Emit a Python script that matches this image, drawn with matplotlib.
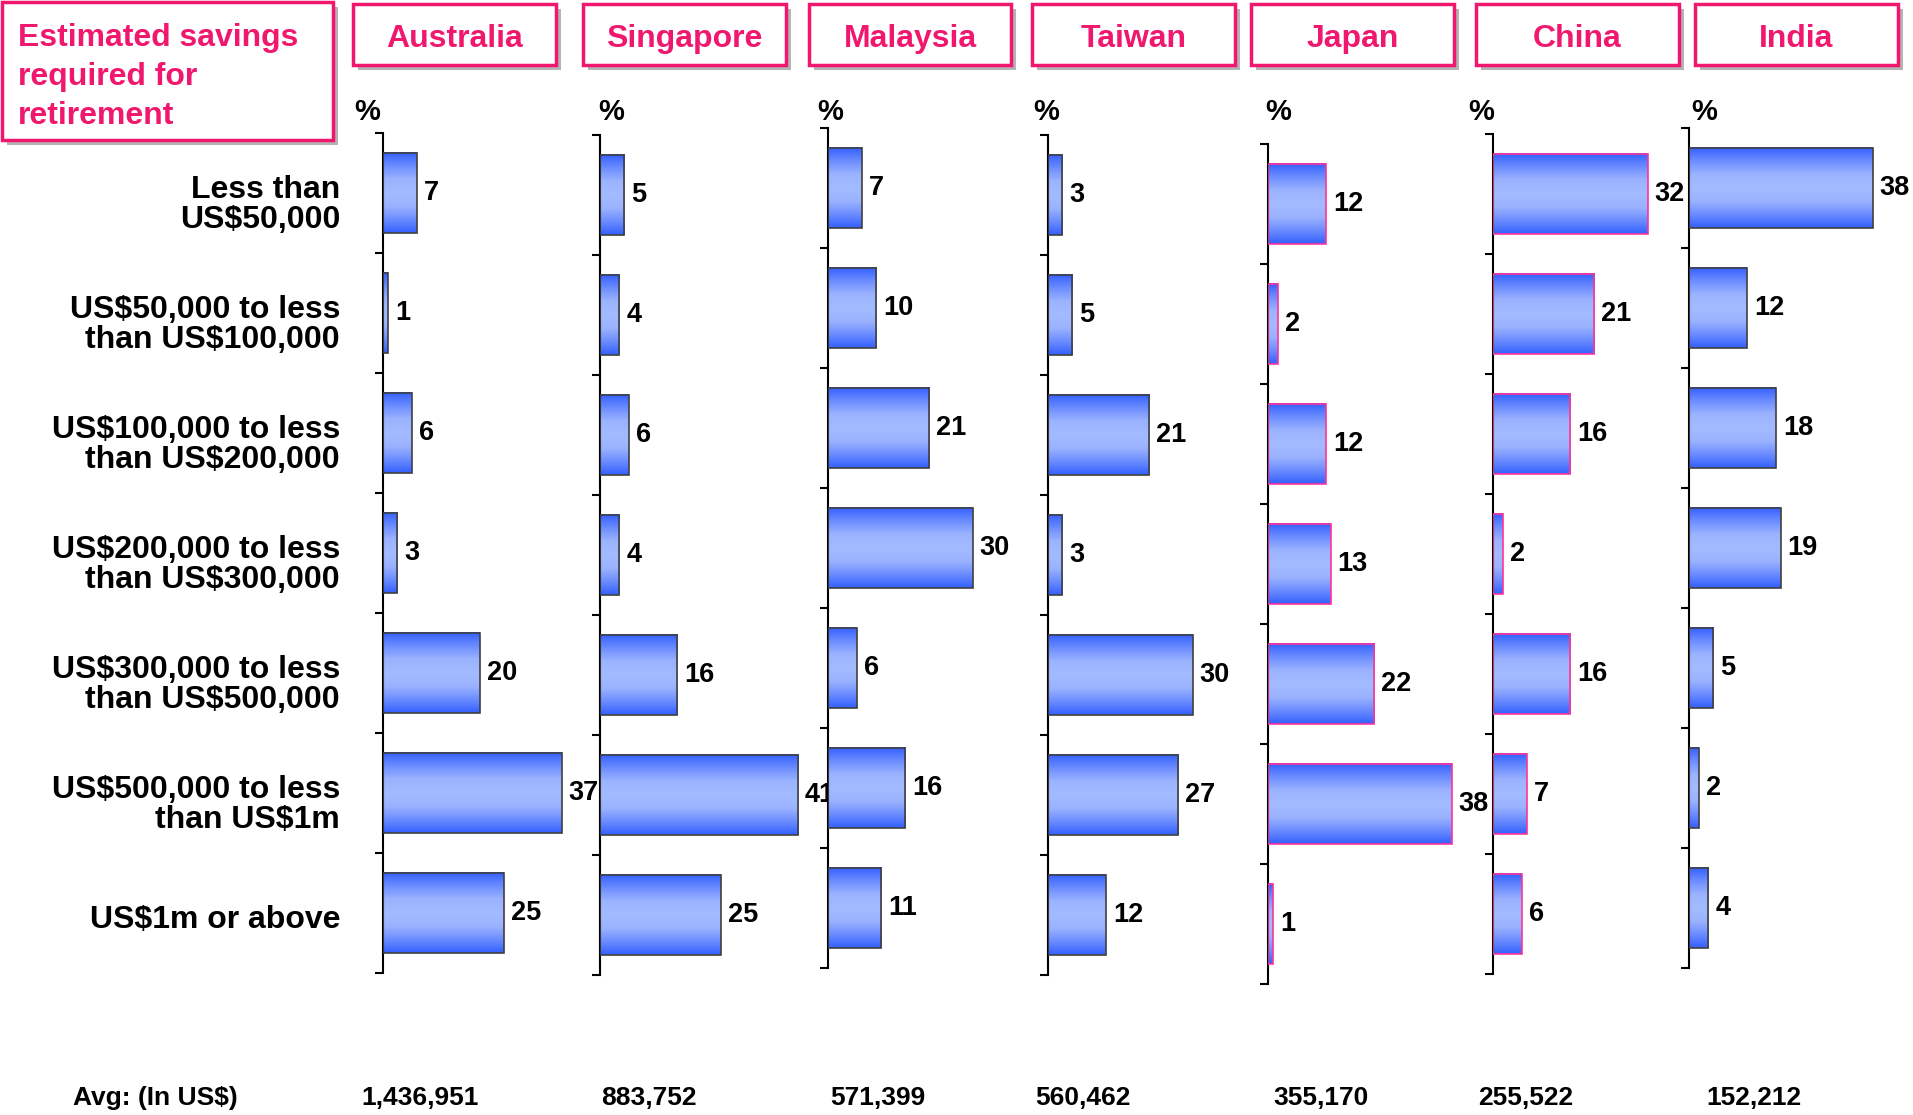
import numpy as np
import matplotlib.pyplot as plt
from matplotlib.colors import LinearSegmentedColormap
from matplotlib.patches import Rectangle
from matplotlib.transforms import blended_transform_factory

plt.rcParams['font.family'] = ['Liberation Sans', 'DejaVu Sans']
plt.rcParams['font.weight'] = 'bold'

# данные
countries = ['Australia', 'Singapore', 'Malaysia', 'Taiwan', 'Japan', 'China', 'India']
categories = ['Less than\nUS$50,000',
              'US$50,000 to less\nthan US$100,000',
              'US$100,000 to less\nthan US$200,000',
              'US$200,000 to less\nthan US$300,000',
              'US$300,000 to less\nthan US$500,000',
              'US$500,000 to less\nthan US$1m',
              'US$1m or above']
australia = [7, 1, 6, 3, 20, 37, 25]
singapore = [5, 4, 6, 4, 16, 41, 25]
malaysia = [7, 10, 21, 30, 6, 16, 11]
taiwan = [3, 5, 21, 3, 30, 27, 12]
japan = [12, 2, 12, 13, 22, 38, 1]
china = [32, 21, 16, 2, 16, 7, 6]
india = [38, 12, 18, 19, 5, 2, 4]
avg_labels = ['1,436,951', '883,752', '571,399', '560,462', '355,170', '255,522', '152,212']
title = 'Estimated savings\nrequired for\nretirement'

all_values = [australia, singapore, malaysia, taiwan, japan, china, india]

# раскладка (пиксели исходной картинки)
W, H = 1913, 1115
PINK = '#F0186E'
axis_x = [383, 600, 828, 1048, 1268, 1493, 1689]
axis_top = [133, 135, 128, 135, 144, 134, 128]
pct_dx = [-16, 11, 2, -2, 10, -12, 15]
box_x = [(353, 556), (583, 786), (809, 1011), (1032, 1235), (1251, 1454), (1476, 1679), (1695, 1898)]
avg_x = [420, 649, 878, 1083, 1321, 1526, 1754]
edge_colors = ['#404040', '#404040', '#404040', '#404040', '#FF3399', '#FF3399', '#404040']
cat_h = 120
px_per_unit = 4.83
ax_w = 215

grad = LinearSegmentedColormap.from_list(
    'g', ['#3360FF', '#6B8CFF', '#9BB3FF', '#A3BBFF', '#9BB3FF', '#6B8CFF', '#3360FF'])
gradient = np.linspace(0, 1, 256).reshape(-1, 1)

fig = plt.figure(figsize=(19.13, 11.15), dpi=100)


def box(x0, x1, y0, y1):
    # тень + рамка
    fig.add_artist(Rectangle(((x0 + 5) / W, 1 - (y1 + 5) / H), (x1 - x0) / W, (y1 - y0) / H,
                             transform=fig.transFigure, facecolor='#b4b4b4', edgecolor='none'))
    fig.add_artist(Rectangle((x0 / W, 1 - y1 / H), (x1 - x0) / W, (y1 - y0) / H,
                             transform=fig.transFigure, facecolor='white', edgecolor=PINK, lw=2.5))


# заголовок
box(2, 333, 2, 140)
fig.text(18 / W, 1 - 77 / H, title, color=PINK, fontsize=23, fontweight='bold',
         ha='left', va='center', linespacing=1.37)

axes = []
for i, (name, vals) in enumerate(zip(countries, all_values)):
    x0, x1 = box_x[i]
    box(x0, x1, 4, 65)
    fig.text((x0 + x1) / 2 / W, 1 - 39 / H, name, color=PINK, fontsize=23,
             fontweight='bold', ha='center', va='center')

    top = axis_top[i]
    ax = fig.add_axes([axis_x[i] / W, 1 - (top + 7 * cat_h) / H, ax_w / W, 7 * cat_h / H])
    ax.set_facecolor('none')
    bars = ax.barh(range(len(vals)), vals, height=0.667, color='none',
                   edgecolor=edge_colors[i], lw=1.2, zorder=3)
    for b in bars:
        ax.imshow(gradient, cmap=grad, aspect='auto', zorder=2,
                  extent=[b.get_x(), b.get_x() + b.get_width(),
                          b.get_y() + b.get_height(), b.get_y()])
    for j, v in enumerate(vals):
        ax.annotate(str(v), (v, j), xytext=(5, 0), textcoords='offset points',
                    va='center', ha='left', fontsize=19.5, fontweight='bold', zorder=4)

    ax.set_xlim(0, ax_w / px_per_unit)
    ax.set_ylim(6.5, -0.5)
    ax.set_yticks(np.arange(-0.5, 7, 1))
    ax.set_yticklabels([])
    ax.set_xticks([])
    ax.tick_params(axis='y', length=6, width=1.5, direction='out', color='black')
    for s in ['top', 'right', 'bottom']:
        ax.spines[s].set_visible(False)
    ax.spines['left'].set_linewidth(1.5)

    fig.text((axis_x[i] + pct_dx[i]) / W, 1 - 112 / H, '%', fontsize=21,
             fontweight='bold', ha='center', va='center')
    fig.text(avg_x[i] / W, 1 - 1098 / H, avg_labels[i], fontsize=19,
             fontweight='bold', ha='center', va='center')
    axes.append(ax)

# подписи категорий
tr = blended_transform_factory(fig.transFigure, axes[0].transData)
for j, cat in enumerate(categories):
    dy = 0.1 if '\n' in cat else 0.06
    axes[0].text(340 / W, j + dy, cat, transform=tr, ha='right', va='center',
                 fontsize=23, fontweight='bold', linespacing=1.0)

fig.text(73 / W, 1 - 1098 / H, 'Avg: (In US$)', fontsize=19, fontweight='bold',
         ha='left', va='center')

plt.savefig('out.png', dpi=100)
